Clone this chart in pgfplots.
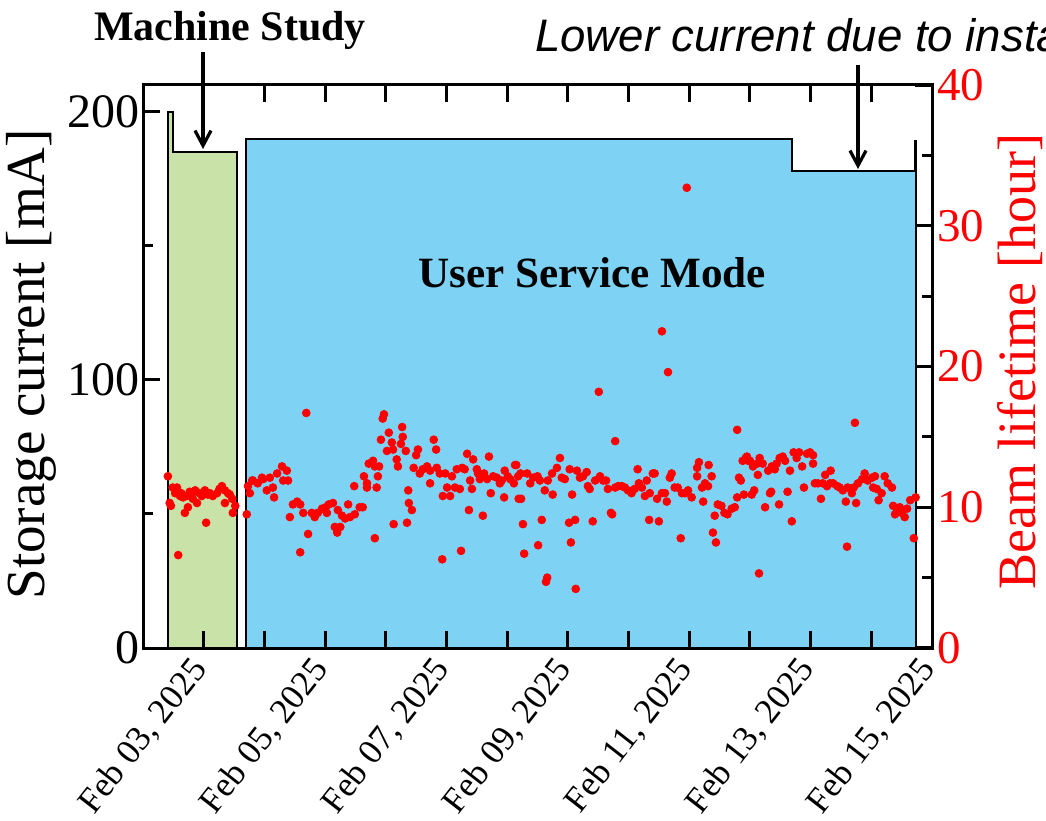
\documentclass[border=0pt]{standalone}
\usepackage{pgfplots}
\pgfplotsset{compat=1.18}
\usepackage{fontspec}
\setmainfont{Liberation Serif}
\newfontfamily\sansfont{Liberation Sans}
\usetikzlibrary{arrows.meta}
\definecolor{mgreen}{RGB}{200,226,168}
\definecolor{mblue}{RGB}{126,211,245}

\pgfplotstableread{
day hours
2.41 12.2
2.44 10.3
2.46 10.1
2.49 11.4
2.53 11.0
2.56 11.4
2.58 6.6
2.61 10.8
2.63 11.0
2.66 10.7
2.69 9.6
2.72 10.8
2.74 10.0
2.77 11.1
2.81 11.0
2.82 10.6
2.86 11.2
2.89 10.3
2.93 11.0
2.97 10.8
3.02 11.2
3.04 8.9
3.07 10.9
3.10 11.0
3.15 10.8
3.22 11.0
3.26 11.3
3.30 11.5
3.35 11.2
3.35 10.3
3.40 11.0
3.43 10.9
3.47 10.6
3.48 9.6
3.52 10.1
3.71 9.5
3.73 11.5
3.76 11.0
3.80 11.9
3.81 11.9
3.89 11.7
3.96 12.1
3.98 12.0
4.04 11.2
4.09 12.1
4.14 11.4
4.16 10.7
4.21 12.4
4.29 12.9
4.31 11.9
4.37 12.6
4.39 11.9
4.42 9.3
4.47 10.2
4.54 10.4
4.59 10.2
4.59 6.8
4.64 9.6
4.69 16.7
4.72 8.1
4.78 9.6
4.83 9.3
4.88 9.6
4.95 9.9
5.01 10.0
5.03 9.6
5.06 10.2
5.13 10.3
5.16 8.6
5.20 8.2
5.21 9.8
5.25 8.6
5.28 9.4
5.33 9.2
5.38 10.2
5.41 9.3
5.48 11.5
5.49 9.5
5.57 10.0
5.62 10.0
5.64 12.2
5.69 11.7
5.69 11.4
5.72 13.1
5.79 13.3
5.82 12.9
5.82 7.8
5.85 11.4
5.87 12.2
5.89 12.9
5.92 14.8
5.95 16.3
5.97 16.6
6.02 14.0
6.05 15.3
6.10 14.6
6.12 14.1
6.13 8.8
6.18 13.4
6.20 12.9
6.25 14.5
6.27 15.7
6.28 15.0
6.33 14.0
6.35 8.9
6.37 11.2
6.38 10.3
6.43 9.8
6.46 12.8
6.50 13.7
6.53 14.1
6.56 12.4
6.61 12.7
6.68 12.9
6.73 12.6
6.73 11.7
6.79 14.8
6.83 14.1
6.84 12.8
6.89 12.4
6.93 6.3
6.94 10.8
6.98 12.4
7.01 11.4
7.06 10.8
7.09 12.2
7.14 11.4
7.17 12.7
7.22 11.3
7.24 6.9
7.26 12.8
7.30 12.7
7.34 13.8
7.37 9.8
7.39 11.9
7.42 11.3
7.44 13.4
7.50 12.7
7.52 12.4
7.55 12.0
7.60 9.4
7.62 12.4
7.67 12.0
7.70 13.6
7.73 11.0
7.77 12.2
7.83 12.1
7.88 11.7
7.91 11.9
7.95 10.7
7.96 12.6
8.01 12.2
8.05 12.0
8.11 11.7
8.13 13.0
8.15 13.0
8.18 12.2
8.19 10.6
8.22 12.4
8.23 10.6
8.26 8.8
8.28 6.7
8.33 12.4
8.38 11.7
8.43 12.1
8.50 12.2
8.51 7.3
8.54 11.9
8.57 9.1
8.62 11.2
8.64 4.7
8.66 5.0
8.67 11.9
8.74 12.4
8.75 10.9
8.82 12.8
8.87 13.5
8.90 12.1
8.95 12.0
9.02 8.9
9.03 12.7
9.05 7.5
9.07 10.9
9.12 9.1
9.13 4.2
9.15 12.6
9.20 12.1
9.25 12.2
9.31 12.5
9.33 11.5
9.36 11.3
9.41 9.0
9.45 11.9
9.51 18.2
9.53 12.2
9.58 11.9
9.63 11.9
9.66 11.3
9.71 9.6
9.73 9.5
9.78 14.7
9.78 11.4
9.83 11.5
9.89 11.5
9.94 11.4
9.99 11.2
10.05 11.0
10.10 11.3
10.15 12.7
10.17 11.7
10.22 11.4
10.27 10.8
10.30 11.9
10.34 9.1
10.35 11.0
10.40 12.4
10.43 12.4
10.47 10.6
10.50 9.0
10.55 11.0
10.55 22.5
10.60 11.0
10.63 10.4
10.65 19.6
10.68 12.1
10.71 12.4
10.76 11.4
10.81 11.4
10.86 7.8
10.88 11.0
10.93 11.0
10.96 32.7
10.98 11.2
11.04 10.7
11.13 12.8
11.13 12.2
11.16 13.2
11.21 11.4
11.23 10.4
11.26 11.7
11.31 11.5
11.32 13.0
11.37 12.2
11.39 8.2
11.42 9.4
11.44 7.5
11.47 10.2
11.53 10.1
11.58 9.6
11.63 9.5
11.70 9.9
11.75 10.0
11.79 15.5
11.79 10.7
11.82 12.1
11.85 11.9
11.88 13.3
11.90 10.9
11.93 13.5
11.95 13.6
11.97 13.3
12.00 13.3
12.03 10.9
12.05 12.9
12.07 11.2
12.12 13.1
12.13 12.3
12.15 5.3
12.16 13.5
12.21 13.1
12.25 10.0
12.30 12.6
12.33 11.0
12.35 11.1
12.36 12.9
12.41 12.7
12.44 13.1
12.48 10.2
12.49 13.5
12.54 13.6
12.58 13.3
12.62 11.1
12.66 12.6
12.69 9.0
12.72 13.9
12.77 13.5
12.81 13.9
12.86 12.9
12.89 11.4
12.94 13.8
12.99 13.9
13.04 13.1
13.04 13.7
13.07 11.7
13.12 11.7
13.17 10.6
13.20 11.7
13.24 12.3
13.27 11.5
13.32 11.7
13.33 12.6
13.37 11.7
13.44 11.5
13.48 11.4
13.53 11.2
13.58 10.4
13.60 7.2
13.61 11.4
13.68 11.0
13.71 11.4
13.73 16.0
13.75 10.3
13.78 11.7
13.85 12.0
13.89 12.4
13.94 11.9
14.01 12.1
14.03 11.4
14.06 12.2
14.09 11.3
14.12 10.5
14.17 11.0
14.22 12.2
14.27 11.7
14.34 11.4
14.36 10.1
14.39 9.5
14.42 9.9
14.47 10.0
14.50 9.6
14.55 9.3
14.59 9.9
14.64 10.5
14.70 7.8
14.73 10.7
}\lifetime

\begin{document}
\begin{tikzpicture}
\useasboundingbox (0,0) rectangle (523bp,410.5bp);
\clip (0,0) rectangle (523bp,410.5bp);
\begin{axis}[
 at={(71.5bp,86.5bp)}, anchor=south west,
 scale only axis, width=394.5bp, height=281.5bp,
 xmin=2, xmax=15, ymin=0, ymax=210,
 axis on top,
 axis line style={line width=1.5bp},
 every tick/.style={black, line width=1.5bp},
 major tick length=8.5bp, minor tick length=5bp,
 tick align=inside,
 xtick={3,4,...,15},
 xticklabels={{Feb 03, 2025},{},{Feb 05, 2025},{},{Feb 07, 2025},{},{Feb 09, 2025},{},{Feb 11, 2025},{},{Feb 13, 2025},{},{Feb 15, 2025}},
 xticklabel style={xshift=-7.5bp, yshift=-3bp, rotate=52, anchor=north east, font=\fontsize{17.6bp}{17.6bp}\selectfont, inner sep=0pt},
 ytick={0,100,200}, minor ytick={50,150},
 ytick pos=left,
 yticklabel style={font=\fontsize{24bp}{24bp}\selectfont, inner sep=1.5bp},
 /pgf/number format/assume math mode=true,
 ylabel={Storage current [mA]},
 ylabel style={font=\fontsize{27.5bp}{27.5bp}\selectfont, at={(axis description cs:-0.141,0.504)}, anchor=center},
]
\addplot[draw=black, line width=1bp, fill=mgreen] coordinates {(2.41,0) (2.41,200) (2.49,200) (2.49,185) (3.55,185) (3.55,0)} -- cycle;
\addplot[draw=black, line width=1bp, fill=mblue] coordinates {(3.70,0) (3.70,190) (12.69,190) (12.69,178) (14.72,178) (14.72,189) (14.73,189) (14.73,0)} -- cycle;
\end{axis}
\begin{axis}[
 at={(71.5bp,86.5bp)}, anchor=south west,
 scale only axis, width=394.5bp, height=281.5bp,
 xmin=2, xmax=15, ymin=0, ymax=40,
 axis y line*=right, axis x line=none,
 axis line style={line width=1.5bp},
 every tick/.style={black, line width=1.5bp},
 major tick length=8.5bp, minor tick length=5bp,
 tick align=inside,
 ytick={0,10,20,30,40}, minor ytick={5,15,25,35},
 yticklabel style={red, font=\fontsize{23.5bp}{23.5bp}\selectfont, inner sep=2.5bp},
 /pgf/number format/assume math mode=true,
 ylabel={Beam lifetime [hour]},
 ylabel style={red, font=\fontsize{27bp}{27bp}\selectfont, at={(axis description cs:1.1115,0.508)}, anchor=center},
]
\addplot[only marks, mark=*, mark size=1.95bp, color=red] table[x=day, y=hours] {\lifetime};
\end{axis}
\node[font=\bfseries\fontsize{21bp}{21bp}\selectfont] at (115bp,395.5bp) {Machine Study};
\node[font=\sansfont\itshape\fontsize{22.8bp}{22.8bp}\selectfont, anchor=west] at (264bp,393bp) {Lower current due to installation};
\node[font=\bfseries\fontsize{21.6bp}{21.6bp}\selectfont] at (296bp,274bp) {User Service Mode};
\draw[line width=1.6bp, -{Straight Barb[length=7.5bp,width=8bp]}] (101.5bp,384.5bp) -- (101.5bp,336bp);
\draw[line width=1.6bp, -{Straight Barb[length=7.5bp,width=8bp]}] (429bp,378bp) -- (429bp,326bp);
\end{tikzpicture}
\end{document}
